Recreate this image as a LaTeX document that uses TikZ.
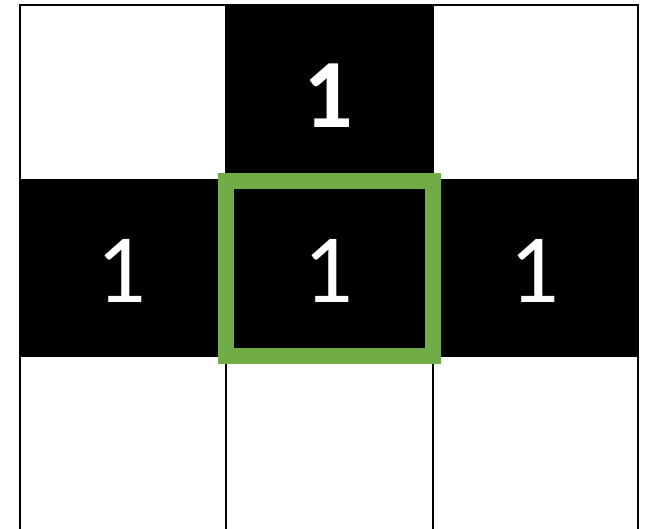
\documentclass[tikz,border=0pt]{standalone}
\usepackage{fontspec}
\setmainfont{Carlito}
\definecolor{boxgreen}{HTML}{70AD47}
\begin{document}
\begin{tikzpicture}[x=1pt,y=-1pt,
  gridline/.style={line width=2pt,draw=black},
  blackcell/.style={fill=black},
  num/.style={text=white,inner sep=0pt,font=\fontsize{98}{98}\selectfont},
  numbold/.style={num,font=\fontsize{98}{98}\selectfont\bfseries},
  focus/.style={draw=boxgreen,line width=16pt}]
\useasboundingbox (0,0) rectangle (651,529);
\begin{scope}
\clip (0,0) rectangle (651,529);
\fill[blackcell] (226,5) rectangle (433,180);
\fill[blackcell] (20,180) rectangle (638,356);
\draw[gridline] (20,5) rectangle (638,545);
\draw[gridline] (226,5) -- (226,545);
\draw[gridline] (433,5) -- (433,545);
\draw[gridline] (20,180) -- (638,180);
\draw[gridline] (20,356) -- (638,356);
\end{scope}
\node[numbold] (top) at (328,95.5) {1};
\node[num] (left) at (121,271) {1};
\node[num] (center) at (328,271) {1};
\node[num] (right) at (534,271) {1};
\draw[focus] (226,181) rectangle (433,356.5);
\end{tikzpicture}
\end{document}
